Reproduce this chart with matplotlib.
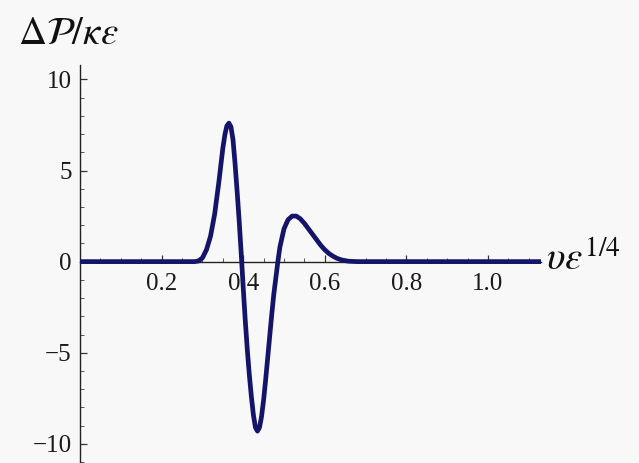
import matplotlib
matplotlib.use("Agg")
from matplotlib import pyplot as plt
from matplotlib.ticker import MultipleLocator, FixedLocator

# valores
x = [0.0, 0.28, 0.29, 0.30, 0.31, 0.32, 0.33, 0.34, 0.35, 0.355, 0.36, 0.365,
     0.37, 0.375, 0.38, 0.385, 0.39, 0.395, 0.40, 0.405, 0.41, 0.415, 0.42,
     0.425, 0.43, 0.435, 0.44, 0.445, 0.45, 0.455, 0.46, 0.465, 0.47, 0.475,
     0.48, 0.485, 0.49, 0.50, 0.51, 0.52, 0.53, 0.54, 0.55, 0.56, 0.57, 0.58,
     0.59, 0.60, 0.61, 0.62, 0.63, 0.64, 0.65, 0.66, 0.68, 1.13]
y = [0.0, 0.0, 0.03, 0.2, 0.65, 1.4, 2.6, 4.3, 6.2, 6.95, 7.45, 7.6,
     7.4, 6.7, 5.4, 3.9, 2.3, 0.5, -1.4, -3.2, -4.8, -6.2, -7.4,
     -8.4, -9.1, -9.3, -9.1, -8.5, -7.6, -6.5, -5.3, -4.1, -2.9, -1.8,
     -0.9, 0.0, 0.8, 1.8, 2.3, 2.5, 2.5, 2.35, 2.1, 1.8, 1.5, 1.2,
     0.9, 0.65, 0.45, 0.3, 0.18, 0.1, 0.05, 0.02, 0.0, 0.0]

xticks = [0.2, 0.4, 0.6, 0.8, 1.0]
xlabels = ["0.2", "0.4", "0.6", "0.8", "1.0"]
yticks = [-10, -5, 0, 5, 10]
ylabels = ["\u221210", "\u22125", "0", "5", "10"]

bg = "#f8f8f8"
plt.rcParams["mathtext.fontset"] = "stix"

fig = plt.figure(figsize=(6.39, 4.63), dpi=100, facecolor=bg)
ax = fig.add_axes([80 / 639, 0.002, 461 / 639, 0.858], facecolor=bg)

ax.plot(x, y, color="#14146b", lw=3.4, solid_capstyle="round", zorder=3)

ax.set_xlim(0, 1.13)
ax.set_ylim(-11.0, 10.8)

# eixos no estilo Mathematica
ax.spines["left"].set_position(("data", 0))
ax.spines["bottom"].set_position(("data", 0))
ax.spines["right"].set_visible(False)
ax.spines["top"].set_visible(False)
for s in ["left", "bottom"]:
    ax.spines[s].set_color("#222222")
    ax.spines[s].set_linewidth(1.0)

ax.xaxis.set_major_locator(FixedLocator(xticks))
ax.set_xticklabels(xlabels)
ax.xaxis.set_minor_locator(MultipleLocator(0.05))
ax.yaxis.set_major_locator(FixedLocator(yticks))
ax.set_yticklabels(ylabels)
ax.yaxis.set_minor_locator(MultipleLocator(1))

ax.tick_params(which="major", direction="in", length=5, width=0.9, color="#333333")
ax.tick_params(which="minor", direction="in", length=3, width=0.7, color="#555555")
ax.tick_params(axis="x", pad=8)
ax.tick_params(axis="y", pad=6)
for lab in ax.get_xticklabels() + ax.get_yticklabels():
    lab.set_fontfamily("Liberation Serif")
    lab.set_fontsize(18)
    lab.set_color("#1a1a1a")

fig.text(18 / 639, 1 - 33 / 463, r"$\Delta\mathcal{P}/\kappa\varepsilon$",
         fontsize=28, ha="left", va="center", color="#111111")
fig.text(546 / 639, 1 - 260 / 463, r"$\upsilon\varepsilon^{1/4}$",
         fontsize=28, ha="left", va="center", color="#111111")

plt.savefig("out.png", dpi=100, facecolor=bg)
